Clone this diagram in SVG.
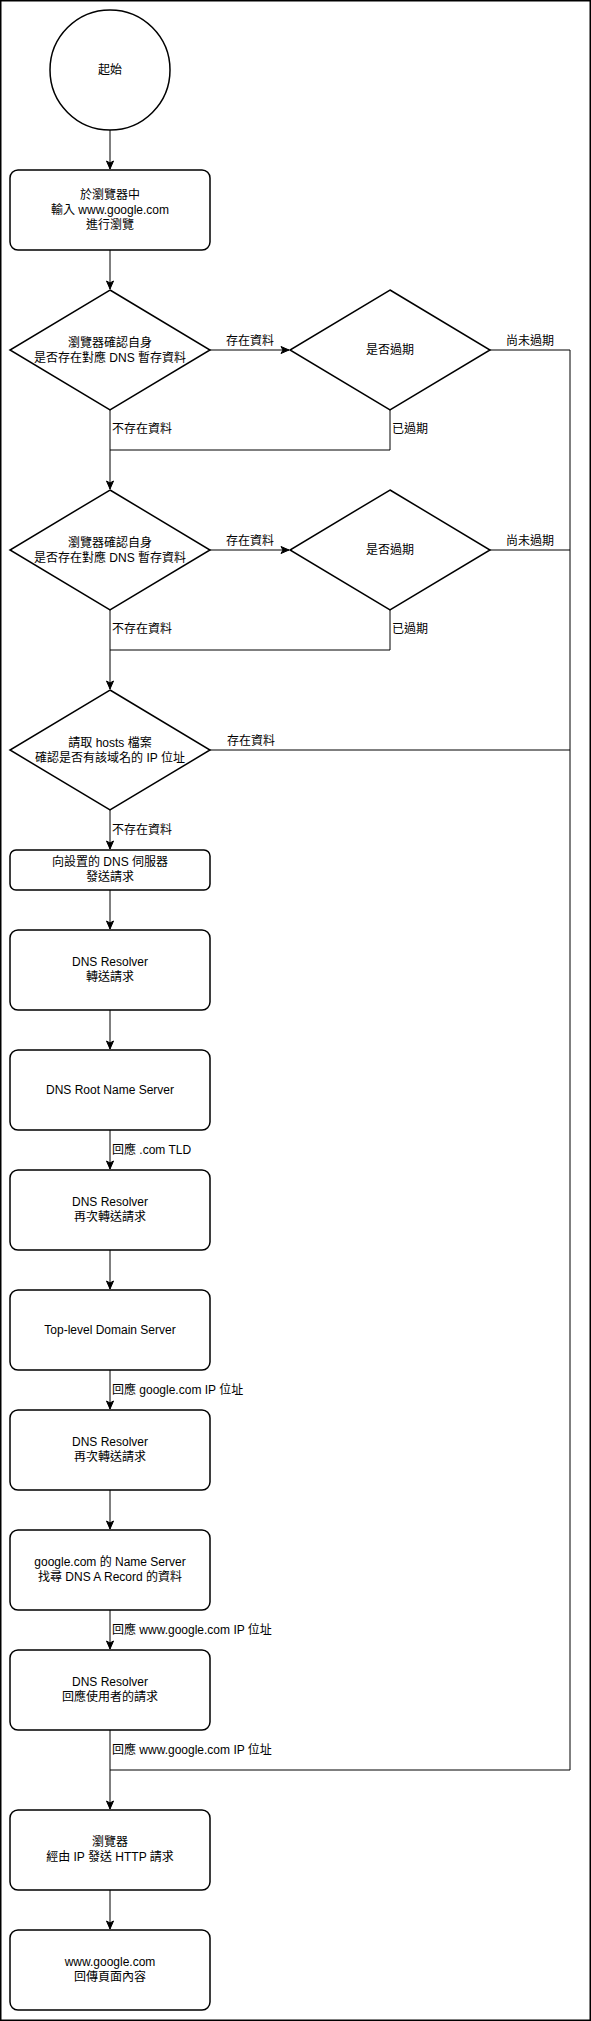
<svg xmlns="http://www.w3.org/2000/svg" width="591" height="2021" viewBox="0 0 591 2021">
<style>
.s{fill:#fff;stroke:#000;stroke-width:1.5}
.c{fill:none;stroke:#000;stroke-width:1}
text{font-family:"Liberation Sans","Noto Sans CJK TC",sans-serif;font-size:12px;fill:#000}
.m{text-anchor:middle}
</style>
<defs>
<marker id="a" markerUnits="userSpaceOnUse" markerWidth="10" markerHeight="10" viewBox="-9 -5 10 10" refX="0" refY="0" orient="auto" overflow="visible">
<path d="M0,0 L-8,-3.5 L-6,0 L-8,3.5 Z" fill="#000" stroke="#000" stroke-width="1"/>
</marker>
</defs>
<rect x="0.75" y="0.75" width="589.5" height="2019.5" fill="#fff" stroke="#000" stroke-width="1.5"/>
<g id="connectors">
<path class="c" d="M110,130 V169" marker-end="url(#a)"/>
<path class="c" d="M110,250 V289" marker-end="url(#a)"/>
<path class="c" d="M210,350 H289" marker-end="url(#a)"/>
<path class="c" d="M490,350 H570 V1770 H110"/>
<path class="c" d="M390,410 V450 H110"/>
<path class="c" d="M110,410 V489" marker-end="url(#a)"/>
<path class="c" d="M210,550 H289" marker-end="url(#a)"/>
<path class="c" d="M490,550 H570"/>
<path class="c" d="M390,610 V650 H110"/>
<path class="c" d="M110,610 V689" marker-end="url(#a)"/>
<path class="c" d="M210,750 H570"/>
<path class="c" d="M110,810 V849" marker-end="url(#a)"/>
<path class="c" d="M110,890 V929" marker-end="url(#a)"/>
<path class="c" d="M110,1010 V1049" marker-end="url(#a)"/>
<path class="c" d="M110,1130 V1169" marker-end="url(#a)"/>
<path class="c" d="M110,1250 V1289" marker-end="url(#a)"/>
<path class="c" d="M110,1370 V1409" marker-end="url(#a)"/>
<path class="c" d="M110,1490 V1529" marker-end="url(#a)"/>
<path class="c" d="M110,1610 V1649" marker-end="url(#a)"/>
<path class="c" d="M110,1730 V1809" marker-end="url(#a)"/>
<path class="c" d="M110,1890 V1929" marker-end="url(#a)"/>
<text class="m" x="250" y="345">存在資料</text>
<text class="m" x="530" y="345">尚未過期</text>
<text x="112" y="433">不存在資料</text>
<text x="392" y="433">已過期</text>
<text class="m" x="250" y="545">存在資料</text>
<text class="m" x="530" y="545">尚未過期</text>
<text x="112" y="633">不存在資料</text>
<text x="392" y="633">已過期</text>
<text class="m" x="251" y="745">存在資料</text>
<text x="112" y="834">不存在資料</text>
<text x="112" y="1154">回應 .com TLD</text>
<text x="112" y="1394">回應 google.com IP 位址</text>
<text x="112" y="1634">回應 www.google.com IP 位址</text>
<text x="112" y="1754">回應 www.google.com IP 位址</text>
</g>
<g id="start"><circle class="s" cx="110" cy="70" r="60"/><text class="m" x="110" y="74">起始</text></g>
<g id="input"><rect class="s" x="10" y="170" width="200" height="80" rx="8"/><text class="m" x="110" y="199">於瀏覽器中</text><text class="m" x="110" y="214">輸入 www.google.com</text><text class="m" x="110" y="229">進行瀏覽</text></g>
<g id="check1"><path class="s" d="M110,290 L210,350 L110,410 L10,350 Z"/><text class="m" x="110" y="347">瀏覽器確認自身</text><text class="m" x="110" y="362">是否存在對應 DNS 暫存資料</text></g>
<g id="expire1"><path class="s" d="M390,290 L490,350 L390,410 L290,350 Z"/><text class="m" x="390" y="354">是否過期</text></g>
<g id="check2"><path class="s" d="M110,490 L210,550 L110,610 L10,550 Z"/><text class="m" x="110" y="547">瀏覽器確認自身</text><text class="m" x="110" y="562">是否存在對應 DNS 暫存資料</text></g>
<g id="expire2"><path class="s" d="M390,490 L490,550 L390,610 L290,550 Z"/><text class="m" x="390" y="554">是否過期</text></g>
<g id="hosts"><path class="s" d="M110,690 L210,750 L110,810 L10,750 Z"/><text class="m" x="110" y="747">請取 hosts 檔案</text><text class="m" x="110" y="762">確認是否有該域名的 IP 位址</text></g>
<g id="send"><rect class="s" x="10" y="850" width="200" height="40" rx="6"/><text class="m" x="110" y="866">向設置的 DNS 伺服器</text><text class="m" x="110" y="881">發送請求</text></g>
<g id="resolver1"><rect class="s" x="10" y="930" width="200" height="80" rx="8"/><text class="m" x="110" y="966">DNS Resolver</text><text class="m" x="110" y="981">轉送請求</text></g>
<g id="root"><rect class="s" x="10" y="1050" width="200" height="80" rx="8"/><text class="m" x="110" y="1094">DNS Root Name Server</text></g>
<g id="resolver2"><rect class="s" x="10" y="1170" width="200" height="80" rx="8"/><text class="m" x="110" y="1206">DNS Resolver</text><text class="m" x="110" y="1221">再次轉送請求</text></g>
<g id="tld"><rect class="s" x="10" y="1290" width="200" height="80" rx="8"/><text class="m" x="110" y="1334">Top-level Domain Server</text></g>
<g id="resolver3"><rect class="s" x="10" y="1410" width="200" height="80" rx="8"/><text class="m" x="110" y="1446">DNS Resolver</text><text class="m" x="110" y="1461">再次轉送請求</text></g>
<g id="ns"><rect class="s" x="10" y="1530" width="200" height="80" rx="8"/><text class="m" x="110" y="1566">google.com 的 Name Server</text><text class="m" x="110" y="1581">找尋 DNS A Record 的資料</text></g>
<g id="resolver4"><rect class="s" x="10" y="1650" width="200" height="80" rx="8"/><text class="m" x="110" y="1686">DNS Resolver</text><text class="m" x="110" y="1701">回應使用者的請求</text></g>
<g id="browser"><rect class="s" x="10" y="1810" width="200" height="80" rx="8"/><text class="m" x="110" y="1846">瀏覽器</text><text class="m" x="110" y="1861">經由 IP 發送 HTTP 請求</text></g>
<g id="google"><rect class="s" x="10" y="1930" width="200" height="80" rx="8"/><text class="m" x="110" y="1966">www.google.com</text><text class="m" x="110" y="1981">回傳頁面內容</text></g>
</svg>
